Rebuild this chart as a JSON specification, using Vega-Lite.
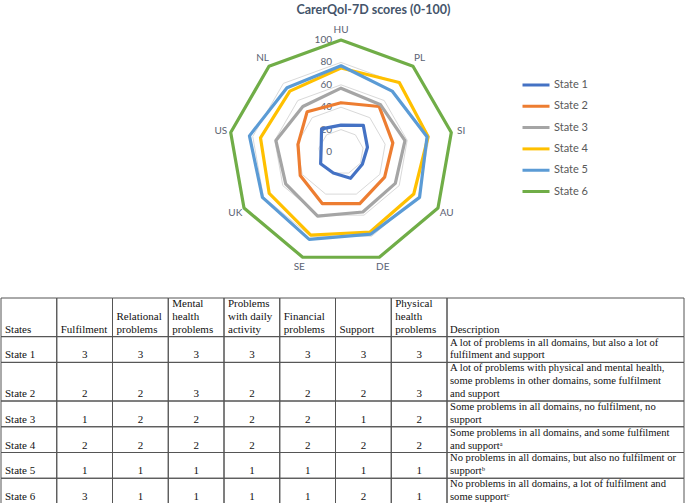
{
  "$schema": "https://vega.github.io/schema/vega-lite/v6.json",
  "padding": {"left": 0, "right": 0, "top": 3, "bottom": 0},
  "spacing": 0,
  "config": {"view": {"stroke": null}, "font": "Lato"},
  "datasets": {
    "scores": [
      {"state": "State 1", "country": "HU", "score": 24},
      {"state": "State 1", "country": "PL", "score": 31},
      {"state": "State 1", "country": "SI", "score": 24},
      {"state": "State 1", "country": "AU", "score": 22},
      {"state": "State 1", "country": "DE", "score": 25},
      {"state": "State 1", "country": "SE", "score": 20},
      {"state": "State 1", "country": "UK", "score": 21},
      {"state": "State 1", "country": "US", "score": 18},
      {"state": "State 1", "country": "NL", "score": 27},
      {"state": "State 2", "country": "HU", "score": 44},
      {"state": "State 2", "country": "PL", "score": 53},
      {"state": "State 2", "country": "SI", "score": 47},
      {"state": "State 2", "country": "AU", "score": 45},
      {"state": "State 2", "country": "DE", "score": 49},
      {"state": "State 2", "country": "SE", "score": 49},
      {"state": "State 2", "country": "UK", "score": 42},
      {"state": "State 2", "country": "US", "score": 39},
      {"state": "State 2", "country": "NL", "score": 47},
      {"state": "State 3", "country": "HU", "score": 57},
      {"state": "State 3", "country": "PL", "score": 55},
      {"state": "State 3", "country": "SI", "score": 58},
      {"state": "State 3", "country": "AU", "score": 56},
      {"state": "State 3", "country": "DE", "score": 57},
      {"state": "State 3", "country": "SE", "score": 61},
      {"state": "State 3", "country": "UK", "score": 57},
      {"state": "State 3", "country": "US", "score": 59},
      {"state": "State 3", "country": "NL", "score": 53},
      {"state": "State 4", "country": "HU", "score": 75},
      {"state": "State 4", "country": "PL", "score": 81},
      {"state": "State 4", "country": "SI", "score": 79},
      {"state": "State 4", "country": "AU", "score": 75},
      {"state": "State 4", "country": "DE", "score": 76},
      {"state": "State 4", "country": "SE", "score": 79},
      {"state": "State 4", "country": "UK", "score": 74},
      {"state": "State 4", "country": "US", "score": 73},
      {"state": "State 4", "country": "NL", "score": 71},
      {"state": "State 5", "country": "HU", "score": 77},
      {"state": "State 5", "country": "PL", "score": 71},
      {"state": "State 5", "country": "SI", "score": 78},
      {"state": "State 5", "country": "AU", "score": 81},
      {"state": "State 5", "country": "DE", "score": 78},
      {"state": "State 5", "country": "SE", "score": 83},
      {"state": "State 5", "country": "UK", "score": 81},
      {"state": "State 5", "country": "US", "score": 83},
      {"state": "State 5", "country": "NL", "score": 75},
      {"state": "State 6", "country": "HU", "score": 100},
      {"state": "State 6", "country": "PL", "score": 100},
      {"state": "State 6", "country": "SI", "score": 100},
      {"state": "State 6", "country": "AU", "score": 100},
      {"state": "State 6", "country": "DE", "score": 100},
      {"state": "State 6", "country": "SE", "score": 100},
      {"state": "State 6", "country": "UK", "score": 100},
      {"state": "State 6", "country": "US", "score": 100},
      {"state": "State 6", "country": "NL", "score": 100}
    ],
    "axes": [
      {"country": "HU", "levels": [0, 20, 40, 60, 80, 100]},
      {"country": "PL", "levels": [0, 20, 40, 60, 80, 100]},
      {"country": "SI", "levels": [0, 20, 40, 60, 80, 100]},
      {"country": "AU", "levels": [0, 20, 40, 60, 80, 100]},
      {"country": "DE", "levels": [0, 20, 40, 60, 80, 100]},
      {"country": "SE", "levels": [0, 20, 40, 60, 80, 100]},
      {"country": "UK", "levels": [0, 20, 40, 60, 80, 100]},
      {"country": "US", "levels": [0, 20, 40, 60, 80, 100]},
      {"country": "NL", "levels": [0, 20, 40, 60, 80, 100]}
    ],
    "table": [
      {"state": "States", "fulfilment": "Fulfilment", "relational": "Relational\nproblems", "mental": "Mental\nhealth\nproblems", "daily": "Problems\nwith daily\nactivity", "financial": "Financial\nproblems", "support": "Support", "physical": "Physical\nhealth\nproblems", "description": "Description"},
      {"state": "State 1", "fulfilment": "3", "relational": "3", "mental": "3", "daily": "3", "financial": "3", "support": "3", "physical": "3", "description": "A lot of problems in all domains, but also a lot of\nfulfilment and support"},
      {"state": "State 2", "fulfilment": "2", "relational": "2", "mental": "3", "daily": "2", "financial": "2", "support": "2", "physical": "3", "description": "A lot of problems with physical and mental health,\nsome problems in other domains, some fulfilment\nand support"},
      {"state": "State 3", "fulfilment": "1", "relational": "2", "mental": "2", "daily": "2", "financial": "2", "support": "1", "physical": "2", "description": "Some problems in all domains, no fulfilment, no\nsupport"},
      {"state": "State 4", "fulfilment": "2", "relational": "2", "mental": "2", "daily": "2", "financial": "2", "support": "2", "physical": "2", "description": "Some problems in all domains, and some fulfilment\nand supportᵃ"},
      {"state": "State 5", "fulfilment": "1", "relational": "1", "mental": "1", "daily": "1", "financial": "1", "support": "1", "physical": "1", "description": "No problems in all domains, but also no fulfilment or\nsupportᵇ"},
      {"state": "State 6", "fulfilment": "3", "relational": "1", "mental": "1", "daily": "1", "financial": "1", "support": "2", "physical": "1", "description": "No problems in all domains, a lot of fulfilment and\nsome supportᶜ"}
    ]
  },
  "vconcat": [
    {
      "width": 685,
      "height": 277,
      "title": {"text": "CarerQol-7D scores (0-100)", "font": "Lato", "fontSize": 12.5, "fontWeight": "bold", "color": "#44546A", "offset": 4, "dx": 30, "anchor": "middle"},
      "layer": [
        {
          "data": {"name": "axes"},
          "transform": [
            {"flatten": ["levels"], "as": ["level"]},
            {"calculate": "indexof(['HU','PL','SI','AU','DE','SE','UK','US','NL'], datum.country) * 2 * PI / 9", "as": "ang"},
            {"calculate": "datum.level * sin(datum.ang)", "as": "gx"},
            {"calculate": "datum.level * cos(datum.ang)", "as": "gy"}
          ],
          "mark": {"type": "line", "interpolate": "linear-closed", "stroke": "#D9D9D9", "strokeWidth": 1},
          "encoding": {
            "x": {"field": "gx", "type": "quantitative", "scale": {"domain": [-303.57, 308.04], "nice": false, "zero": false}, "axis": null},
            "y": {"field": "gy", "type": "quantitative", "scale": {"domain": [-129.46, 117.86], "nice": false, "zero": false}, "axis": null},
            "detail": {"field": "level", "type": "nominal"},
            "order": {"field": "ang", "type": "quantitative"}
          }
        },
        {
          "data": {"name": "axes"},
          "transform": [
            {"filter": "datum.country == 'HU'"},
            {"flatten": ["levels"], "as": ["level"]},
            {"calculate": "0", "as": "tx"}
          ],
          "mark": {"type": "text", "align": "right", "baseline": "middle", "dx": -9, "font": "Lato", "fontSize": 10, "color": "#5a6272"},
          "encoding": {
            "x": {"field": "tx", "type": "quantitative"},
            "y": {"field": "level", "type": "quantitative"},
            "text": {"field": "level", "type": "quantitative"}
          }
        },
        {
          "data": {"name": "axes"},
          "transform": [
            {"calculate": "indexof(['HU','PL','SI','AU','DE','SE','UK','US','NL'], datum.country) * 2 * PI / 9", "as": "ang"},
            {"calculate": "109 * sin(datum.ang)", "as": "lx"},
            {"calculate": "109 * cos(datum.ang)", "as": "ly"}
          ],
          "mark": {"type": "text", "align": "center", "baseline": "middle", "font": "Lato", "fontSize": 10, "color": "#5a6272"},
          "encoding": {
            "x": {"field": "lx", "type": "quantitative"},
            "y": {"field": "ly", "type": "quantitative"},
            "text": {"field": "country", "type": "nominal"}
          }
        },
        {
          "data": {"name": "scores"},
          "transform": [
            {"calculate": "indexof(['HU','PL','SI','AU','DE','SE','UK','US','NL'], datum.country) * 2 * PI / 9", "as": "ang"},
            {"calculate": "datum.score * sin(datum.ang)", "as": "px"},
            {"calculate": "datum.score * cos(datum.ang)", "as": "py"}
          ],
          "mark": {"type": "line", "interpolate": "linear-closed", "strokeWidth": 3.2, "strokeJoin": "round"},
          "encoding": {
            "x": {"field": "px", "type": "quantitative"},
            "y": {"field": "py", "type": "quantitative"},
            "order": {"field": "ang", "type": "quantitative"},
            "color": {
              "field": "state", "type": "nominal",
              "scale": {"domain": ["State 1", "State 2", "State 3", "State 4", "State 5", "State 6"], "range": ["#4472C4", "#ED7D31", "#A5A5A5", "#FFC000", "#5B9BD5", "#70AD47"]},
              "legend": {"title": null, "orient": "none", "legendX": 520, "legendY": 57, "padding": 0, "symbolType": "stroke", "symbolStrokeWidth": 3, "symbolSize": 729, "clipHeight": 16, "rowPadding": 5.3, "labelFont": "Lato", "labelFontSize": 11, "labelColor": "#595959", "labelOffset": 3}
            }
          }
        }
      ]
    },
    {
      "spacing": 0,
      "bounds": "flush",
      "hconcat": [
        {
          "width": 446,
          "height": 206,
          "data": {"name": "table"},
          "transform": [
            {"calculate": "max(length(split(datum.description, '\\n')), length(split(datum.mental, '\\n')))", "as": "nl"},
            {"window": [{"op": "sum", "field": "nl", "as": "y1"}], "frame": [null, 0]},
            {"calculate": "datum.y1 - datum.nl", "as": "y0"},
            {"fold": ["state", "fulfilment", "relational", "mental", "daily", "financial", "support", "physical"], "as": ["key", "value"]},
            {"calculate": "datum.y1 - length(split(datum.value, '\\n')) + 1", "as": "yt"}
          ],
          "layer": [
            {
              "mark": {"type": "rect", "filled": false, "stroke": "#555555", "strokeWidth": 1},
              "encoding": {
                "x": {"field": "key", "type": "nominal", "scale": {"domain": ["state", "fulfilment", "relational", "mental", "daily", "financial", "support", "physical"], "paddingInner": 0, "paddingOuter": 0}, "axis": null},
                "y": {"field": "y0", "type": "quantitative", "scale": {"reverse": true, "nice": false}, "axis": null},
                "y2": {"field": "y1"}
              }
            },
            {
              "transform": [{"filter": "datum.key == 'state' || datum.state == 'States'"}],
              "mark": {"type": "text", "align": "left", "baseline": "bottom", "dx": 4, "dy": -2, "lineBreak": "\n", "lineHeight": 12.875, "font": "Liberation Serif", "fontSize": 11, "color": "#111"},
              "encoding": {
                "x": {"field": "key", "type": "nominal", "bandPosition": 0},
                "y": {"field": "yt", "type": "quantitative"},
                "text": {"field": "value"}
              }
            },
            {
              "transform": [{"filter": "datum.key != 'state' && datum.state != 'States'"}],
              "mark": {"type": "text", "align": "center", "baseline": "bottom", "dy": -2, "font": "Liberation Serif", "fontSize": 11, "color": "#111"},
              "encoding": {
                "x": {"field": "key", "type": "nominal", "bandPosition": 0.5},
                "y": {"field": "yt", "type": "quantitative"},
                "text": {"field": "value"}
              }
            }
          ]
        },
        {
          "width": 237,
          "height": 206,
          "data": {"name": "table"},
          "transform": [
            {"calculate": "max(length(split(datum.description, '\\n')), length(split(datum.mental, '\\n')))", "as": "nl"},
            {"window": [{"op": "sum", "field": "nl", "as": "y1"}], "frame": [null, 0]},
            {"calculate": "datum.y1 - datum.nl", "as": "y0"},
            {"calculate": "datum.y1 - length(split(datum.description, '\\n')) + 1", "as": "yt"}
          ],
          "layer": [
            {
              "mark": {"type": "rect", "filled": false, "stroke": "#555555", "strokeWidth": 1},
              "encoding": {
                "x": {"datum": "Description", "type": "nominal", "scale": {"paddingInner": 0, "paddingOuter": 0}, "axis": null},
                "y": {"field": "y0", "type": "quantitative", "scale": {"reverse": true, "nice": false}, "axis": null},
                "y2": {"field": "y1"}
              }
            },
            {
              "mark": {"type": "text", "align": "left", "baseline": "bottom", "dx": 3, "dy": -2, "lineBreak": "\n", "lineHeight": 12.875, "font": "Liberation Serif", "fontSize": 10.6, "color": "#111"},
              "encoding": {
                "x": {"datum": "Description", "type": "nominal", "bandPosition": 0},
                "y": {"field": "yt", "type": "quantitative"},
                "text": {"field": "description"}
              }
            }
          ]
        }
      ]
    }
  ]
}
